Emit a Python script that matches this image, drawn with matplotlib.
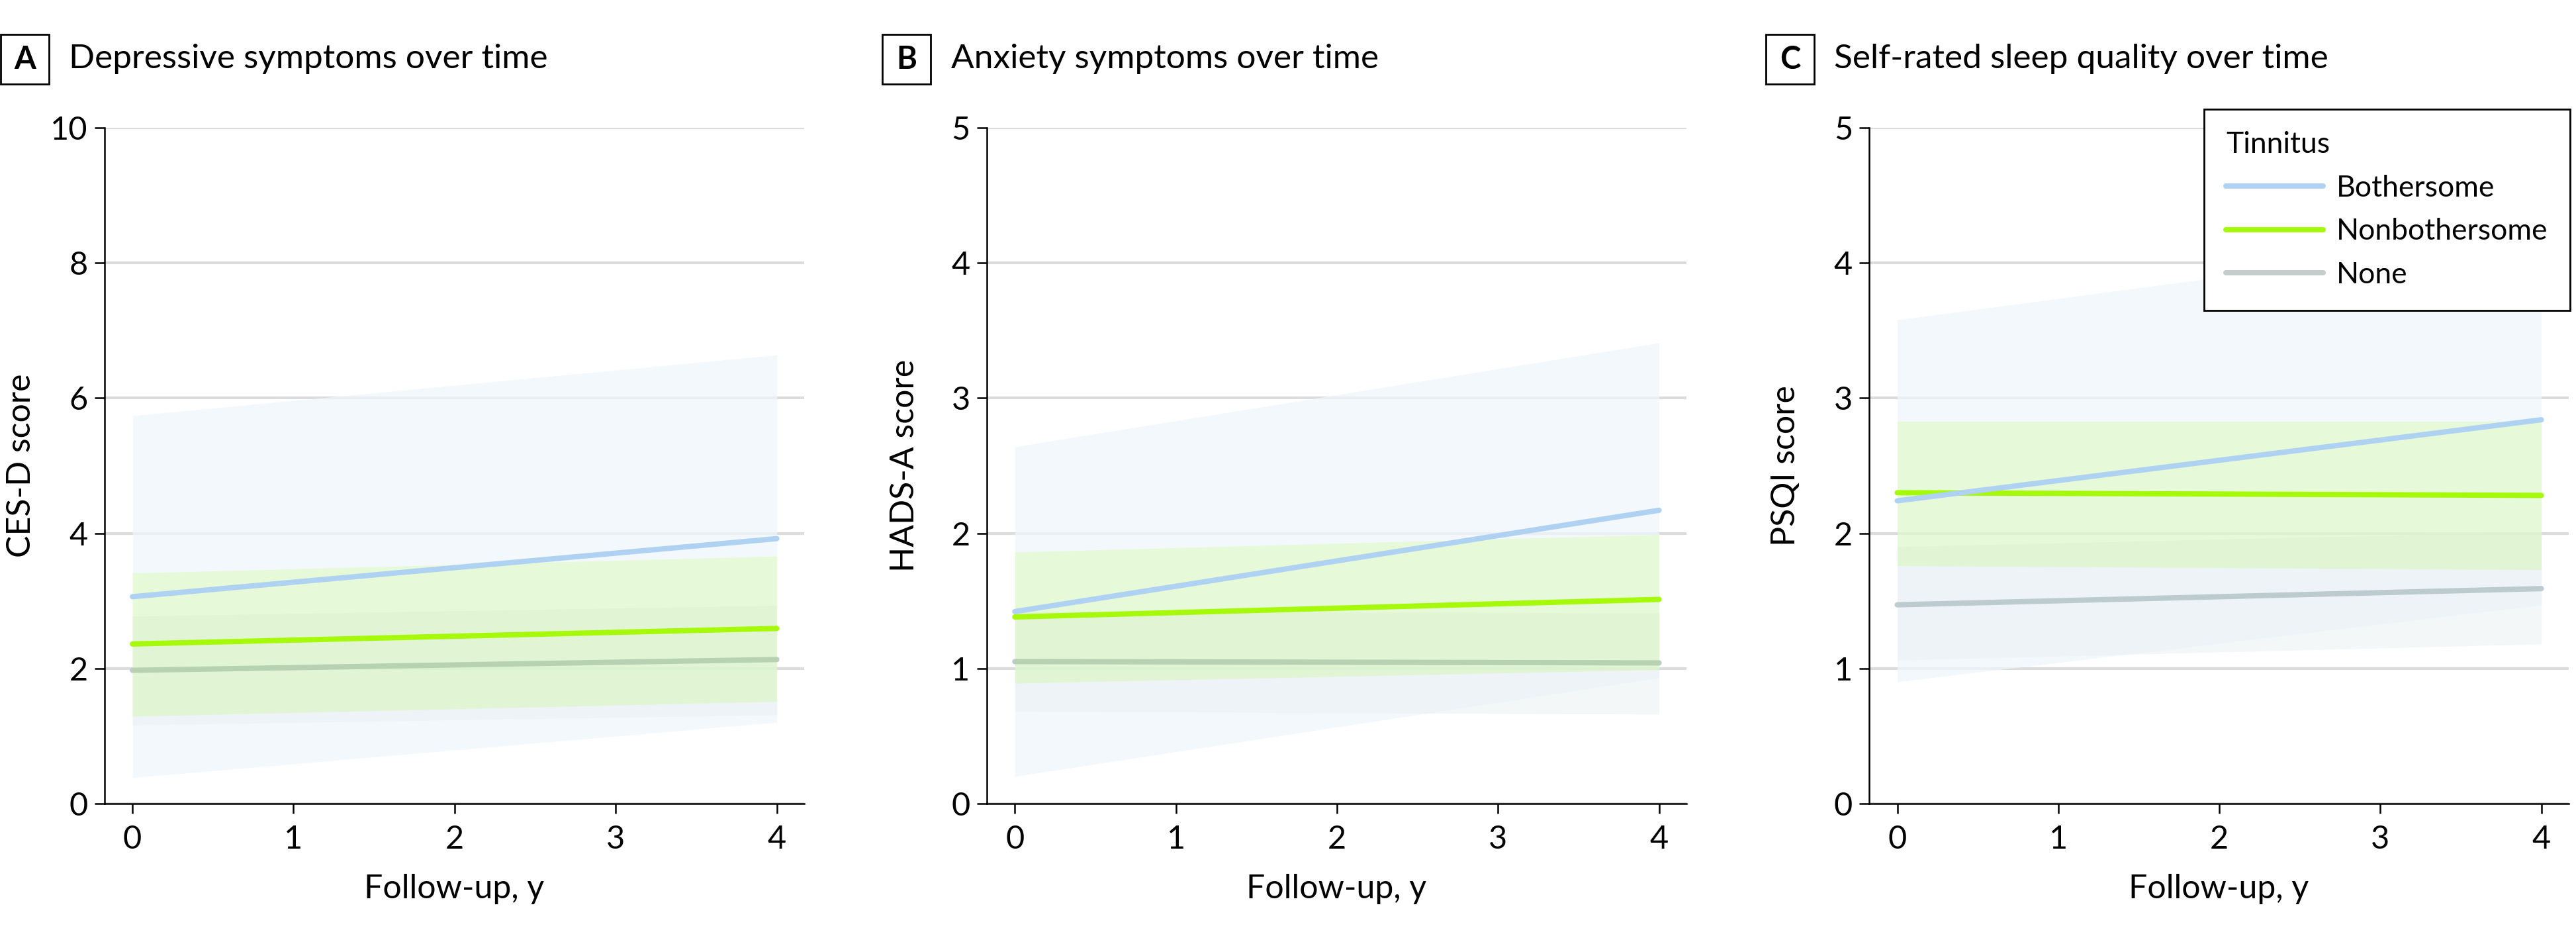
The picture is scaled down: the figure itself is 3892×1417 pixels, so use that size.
import matplotlib
matplotlib.use('Agg')
import matplotlib.pyplot as plt
from matplotlib.patches import Rectangle

plt.rcParams['font.family'] = ['Lato', 'DejaVu Sans']

# follow-up years (start / end of fitted line)
years = [0, 4]

groups = ['Bothersome', 'Nonbothersome', 'None']

# Panel A - CES-D
cesd_mean = {'Bothersome': [3.06, 3.92], 'Nonbothersome': [2.36, 2.59], 'None': [1.97, 2.13]}
cesd_low = {'Bothersome': [0.38, 1.20], 'Nonbothersome': [1.29, 1.51], 'None': [1.16, 1.31]}
cesd_high = {'Bothersome': [5.74, 6.64], 'Nonbothersome': [3.41, 3.66], 'None': [2.77, 2.93]}

# Panel B - HADS-A
hads_mean = {'Bothersome': [1.42, 2.17], 'Nonbothersome': [1.38, 1.51], 'None': [1.05, 1.04]}
hads_low = {'Bothersome': [0.20, 0.93], 'Nonbothersome': [0.89, 0.99], 'None': [0.68, 0.66]}
hads_high = {'Bothersome': [2.64, 3.41], 'Nonbothersome': [1.86, 1.99], 'None': [1.42, 1.41]}

# Panel C - PSQI
psqi_mean = {'Bothersome': [2.24, 2.84], 'Nonbothersome': [2.30, 2.28], 'None': [1.47, 1.59]}
psqi_low = {'Bothersome': [0.90, 1.47], 'Nonbothersome': [1.76, 1.73], 'None': [1.06, 1.18]}
psqi_high = {'Bothersome': [3.58, 4.21], 'Nonbothersome': [2.83, 2.83], 'None': [1.90, 2.01]}

panels = [
    ('A', 'Depressive symptoms over time', 'CES-D score', 10, [0, 2, 4, 6, 8, 10],
     cesd_mean, cesd_low, cesd_high),
    ('B', 'Anxiety symptoms over time', 'HADS-A score', 5, [0, 1, 2, 3, 4, 5],
     hads_mean, hads_low, hads_high),
    ('C', 'Self-rated sleep quality over time', 'PSQI score', 5, [0, 1, 2, 3, 4, 5],
     psqi_mean, psqi_low, psqi_high),
]

line_colors = {'Bothersome': '#b0d2f2', 'Nonbothersome': '#a6f90a', 'None': '#bccbce'}
band_colors = {'Bothersome': '#f0f6fb', 'Nonbothersome': '#9eff0c', 'None': '#e8f0f2'}
band_alpha = {'Bothersome': 0.75, 'Nonbothersome': 0.15, 'None': 0.5}

W, H = 3892, 1417
fig = plt.figure(figsize=(W / 100, H / 100), dpi=100)

ax_left = [157.5, 1490.7, 2824]
ax_right = [1215, 2548, 3881]
box_left = [1, 1333, 2668]
title_left = [104, 1437, 2771]
ylab_x = [32, 1367, 2698]
y_top, y_bot = 193.4, 1213.6

for i, (letter, title, ylabel, ymax, yticks, mean, low, high) in enumerate(panels):
    ax = fig.add_axes([ax_left[i] / W, 1 - y_bot / H,
                       (ax_right[i] - ax_left[i]) / W, (y_bot - y_top) / H])
    ax.set_xlim(-0.175, 4.17)
    ax.set_ylim(0, ymax)
    ax.set_yticks(yticks)
    ax.set_xticks([0, 1, 2, 3, 4])
    ax.grid(axis='y', color='#dcdcdc', linewidth=3, zorder=0)
    ax.set_axisbelow(True)
    for s in ['top', 'right']:
        ax.spines[s].set_visible(False)
    for s in ['left', 'bottom']:
        ax.spines[s].set_linewidth(1.8)
    ax.tick_params(length=11, width=1.8, labelsize=35)
    ax.tick_params(axis='x', pad=12)
    ax.tick_params(axis='y', pad=7)

    # bands and lines, drawn in the stacking order of the original
    ax.fill_between(years, low['Bothersome'], high['Bothersome'], color=band_colors['Bothersome'],
                    alpha=band_alpha['Bothersome'], linewidth=0, zorder=1)
    ax.fill_between(years, low['None'], high['None'], color=band_colors['None'],
                    alpha=band_alpha['None'], linewidth=0, zorder=2)
    ax.plot(years, mean['None'], color=line_colors['None'], lw=5.8,
            solid_capstyle='round', zorder=3, label='None')
    ax.fill_between(years, low['Nonbothersome'], high['Nonbothersome'],
                    color=band_colors['Nonbothersome'], alpha=band_alpha['Nonbothersome'],
                    linewidth=0, zorder=4)
    ax.plot(years, mean['Nonbothersome'], color=line_colors['Nonbothersome'], lw=5.8,
            solid_capstyle='round', zorder=5, label='Nonbothersome')
    ax.plot(years, mean['Bothersome'], color=line_colors['Bothersome'], lw=5.8,
            solid_capstyle='round', zorder=6, label='Bothersome')

    ax.set_xlabel('Follow-up, y', fontsize=36, labelpad=22)
    ax.set_ylabel(ylabel, fontsize=36, va='center')
    ax.yaxis.set_label_coords((ylab_x[i] - ax_left[i]) / (ax_right[i] - ax_left[i]), 0.5)

    # panel letter box + title
    fig.patches.append(Rectangle((box_left[i] / W, 1 - 126.5 / H), 73 / W, 74.5 / H,
                                 transform=fig.transFigure, fill=False,
                                 edgecolor='black', linewidth=2))
    fig.text((box_left[i] + 36.5) / W, 1 - 89.5 / H, letter, fontsize=34,
             fontweight='bold', ha='center', va='center')
    fig.text(title_left[i] / W, 1 - 89.5 / H, title, fontsize=37, ha='left', va='center')

    if letter == 'C':
        handles, labels = ax.get_legend_handles_labels()
        order = [labels.index(g) for g in groups]
        leg = ax.legend([handles[k] for k in order], [labels[k] for k in order],
                        title='Tinnitus', loc='upper left',
                        bbox_to_anchor=(0.4787, 1.0278), borderaxespad=0,
                        fontsize=32, title_fontsize=32, alignment='left',
                        handlelength=3.3, handletextpad=0.45, labelspacing=0.55,
                        borderpad=0.75, fancybox=False, framealpha=1,
                        edgecolor='black')
        leg.get_frame().set_linewidth(2)
        leg.set_zorder(10)
        leg.legend_handles[2].set_color('#c4cccc')

fig.savefig('out.png', dpi=100)
